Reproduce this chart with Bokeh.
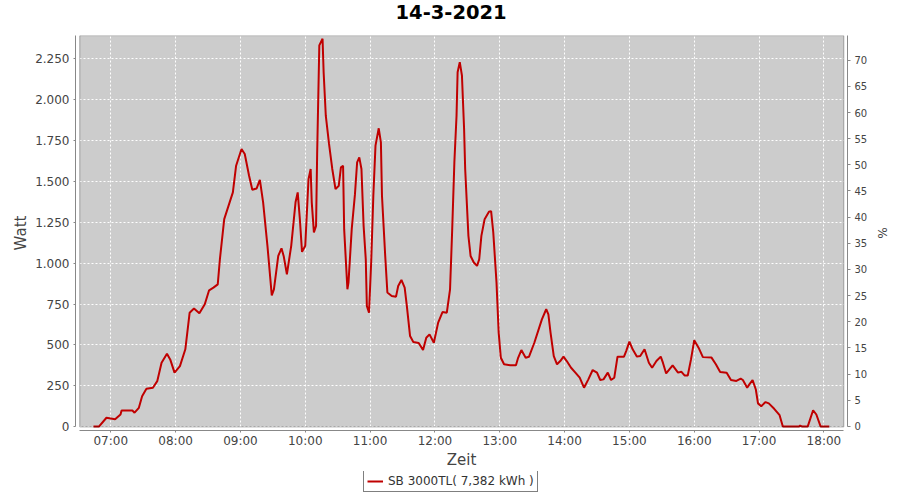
from bokeh.plotting import figure
from bokeh.layouts import column
from bokeh.models import Range1d, LinearAxis, FixedTicker, BoxAnnotation, Legend, LegendItem, Title
from bokeh.embed import file_html
from bokeh.resources import INLINE

# ---------------- data ----------------
title_text = "14-3-2021"
series_label = "SB 3000TL( 7,382 kWh )"
x_label = "Zeit"
y_label = "Watt"
y2_label = "%"

times = ["06:44", "06:49", "06:56", "07:00", "07:04", "07:09", "07:10", "07:16", "07:20", "07:22",
         "07:26", "07:29", "07:33", "07:39", "07:43", "07:47", "07:52", "07:55", "07:59", "08:04",
         "08:09", "08:13", "08:17", "08:22", "08:27", "08:31", "08:35", "08:39", "08:41", "08:45",
         "08:50", "08:53", "08:56", "09:01", "09:04", "09:08", "09:11", "09:15", "09:18", "09:21",
         "09:25", "09:29", "09:31", "09:35", "09:38", "09:40", "09:43", "09:47", "09:51", "09:53",
         "09:55", "09:57", "10:00", "10:03", "10:05", "10:06", "10:08", "10:10", "10:11", "10:13",
         "10:16", "10:17", "10:19", "10:22", "10:25", "10:28", "10:31", "10:33", "10:35", "10:36",
         "10:39", "10:40", "10:43", "10:46", "10:48", "10:50", "10:52", "10:54", "10:56", "10:57",
         "10:59", "11:01", "11:03", "11:05", "11:08", "11:10", "11:11", "11:14", "11:16", "11:20",
         "11:24", "11:26", "11:29", "11:32", "11:34", "11:37", "11:40", "11:45", "11:49", "11:52",
         "11:55", "11:59", "12:03", "12:07", "12:11", "12:14", "12:16", "12:18", "12:20", "12:21",
         "12:23", "12:25", "12:27", "12:28", "12:31", "12:33", "12:36", "12:39", "12:41", "12:43",
         "12:46", "12:50", "12:52", "12:54", "12:57", "12:59", "13:01", "13:04", "13:10", "13:15",
         "13:17", "13:20", "13:24", "13:27", "13:32", "13:36", "13:39", "13:43", "13:45", "13:47",
         "13:50", "13:53", "13:56", "13:59", "14:02", "14:06", "14:10", "14:14", "14:18", "14:22",
         "14:26", "14:30", "14:33", "14:36", "14:40", "14:43", "14:46", "14:49", "14:55", "14:57",
         "15:00", "15:03", "15:07", "15:10", "15:14", "15:18", "15:21", "15:25", "15:29", "15:31",
         "15:34", "15:40", "15:45", "15:48", "15:51", "15:54", "15:57", "16:00", "16:04", "16:08",
         "16:16", "16:20", "16:24", "16:30", "16:34", "16:39", "16:43", "16:45", "16:49", "16:51",
         "16:54", "16:57", "16:59", "17:02", "17:06", "17:09", "17:14", "17:19", "17:22", "17:37",
         "17:38", "17:40", "17:45", "17:50", "17:53", "17:57", "18:05"]

watts = [0, 0, 54, 50, 45, 74, 99, 99, 98, 85,
         115, 186, 231, 238, 278, 391, 446, 411, 330, 370,
         473, 697, 722, 693, 748, 834, 850, 870, 1024, 1269,
         1372, 1433, 1596, 1698, 1668, 1535, 1449, 1457, 1510, 1372,
         1106, 803, 840, 1044, 1091, 1044, 932, 1106, 1372, 1433,
         1269, 1069, 1106, 1514, 1576, 1372, 1188, 1228, 1668, 2332,
         2373, 2168, 1902, 1729, 1576, 1453, 1473, 1586, 1595, 1208,
         840, 881, 1208, 1422, 1617, 1647, 1576, 1228, 1024, 738,
         697, 1004, 1412, 1719, 1825, 1739, 1412, 1044, 820, 799,
         795, 860, 897, 850, 738, 554, 517, 512, 468, 544,
         564, 513, 636, 701, 697, 840, 1208, 1617, 1902, 2168,
         2230, 2148, 1821, 1576, 1167, 1044, 1004, 983, 1024, 1167,
         1269, 1314, 1318, 1188, 881, 575, 421, 381, 375, 375,
         421, 468, 421, 427, 513, 595, 656, 718, 687, 575,
         431, 381, 401, 428, 401, 360, 330, 299, 238, 289,
         346, 330, 285, 289, 330, 285, 299, 428, 428, 462,
         520, 473, 428, 432, 473, 391, 360, 401, 428, 391,
         325, 374, 330, 336, 313, 313, 411, 528, 483, 425,
         422, 381, 334, 330, 285, 279, 293, 285, 238, 258,
         285, 227, 142, 125, 150, 142, 109, 70, 0, 0,
         6, 0, 0, 100, 74, 0, 0]

x_tick_hours = [7, 8, 9, 10, 11, 12, 13, 14, 15, 16, 17, 18]
x_tick_labels = ["07:00", "08:00", "09:00", "10:00", "11:00", "12:00",
                 "13:00", "14:00", "15:00", "16:00", "17:00", "18:00"]
y_tick_values = [0, 250, 500, 750, 1000, 1250, 1500, 1750, 2000, 2250]
y_tick_labels = ["0", "250", "500", "750", "1.000", "1.250", "1.500", "1.750", "2.000", "2.250"]
pct_tick_values = [0, 5, 10, 15, 20, 25, 30, 35, 40, 45, 50, 55, 60, 65, 70]

# ---------------- layout / style ----------------
hours = [int(t[:2]) + int(t[3:]) / 60 for t in times]

X0, X1 = 6.4559, 18.3640        # frame extent (hours)
Y0, Y1 = -23.9, 2392.7          # frame extent (W)
P0, P1 = -0.80, 74.73           # frame extent (%)
BOX_L, BOX_R = 6.5218, 18.3073
BOX_B, BOX_T = -2.0, 2392.0


def w_to_pct(w):
    return P0 + (w - Y0) / (Y1 - Y0) * (P1 - P0)


FONT = "DejaVu Sans"
AX_COLOR = "#888888"
TXT_COLOR = "#444444"

p = figure(width=892, height=471, x_range=Range1d(X0, X1), y_range=Range1d(Y0, Y1),
           output_backend="svg", toolbar_location=None, title=None,
           min_border_left=75, min_border_right=40, min_border_top=35, min_border_bottom=40)
p.extra_y_ranges = {"pct": Range1d(P0, P1)}
p.background_fill_color = "white"
p.border_fill_color = "white"
p.outline_line_color = None

# spacer (closest to the frame) and the real title above it
spacer = Title(text=" ", text_font_size="1px", standoff=12)
p.add_layout(spacer, "above")
title = Title(text=title_text, text_font=FONT, text_font_size="19.5px", text_font_style="bold",
              text_color="black", align="left", offset=320, vertical_align="top", standoff=0)
p.add_layout(title, "above")

# plot area box
p.add_layout(BoxAnnotation(left=BOX_L, right=BOX_R, bottom=BOX_B, top=BOX_T,
                           fill_color="#CCCCCC", fill_alpha=1.0, line_color=None, level="image"))
p.add_layout(BoxAnnotation(left=BOX_L, right=BOX_R, bottom=BOX_B, top=BOX_T,
                           fill_color=None, fill_alpha=0, line_color="black", line_width=1,
                           level="overlay"))

xt = FixedTicker(ticks=x_tick_hours)
yt = FixedTicker(ticks=y_tick_values)

xa = p.xaxis[0]
xa.ticker = xt
xa.major_label_overrides = dict(zip(x_tick_hours, x_tick_labels))
xa.bounds = (BOX_L, BOX_R)
xa.axis_label = x_label

ya = p.yaxis[0]
ya.ticker = yt
ya.major_label_overrides = dict(zip(y_tick_values, y_tick_labels))
ya.bounds = (BOX_B, BOX_T)
ya.axis_label = y_label

ra = LinearAxis(y_range_name="pct", ticker=FixedTicker(ticks=pct_tick_values),
                bounds=(w_to_pct(BOX_B), w_to_pct(BOX_T)), axis_label=y2_label)
p.add_layout(ra, "right")

for ax in (xa, ya, ra):
    ax.axis_line_color = AX_COLOR
    ax.major_tick_line_color = AX_COLOR
    ax.major_tick_in = 0
    ax.major_tick_out = 2
    ax.minor_tick_line_color = None
    ax.major_label_text_font = FONT
    ax.major_label_text_font_size = "12px"
    ax.major_label_text_color = TXT_COLOR
    ax.axis_label_text_font = FONT
    ax.axis_label_text_font_size = "15px"
    ax.axis_label_text_font_style = "normal"
    ax.axis_label_text_color = TXT_COLOR

xa.major_label_standoff = 1
xa.axis_label_standoff = 0
ya.major_label_standoff = 4
ya.axis_label_standoff = 2
ra.major_tick_out = 3
ra.major_label_standoff = 4
ra.major_label_text_font_size = "10px"
ra.axis_label_text_font_size = "12px"
ra.axis_label_standoff = 5

p.xgrid.ticker = xt
p.ygrid.ticker = yt
for g in (p.xgrid, p.ygrid):
    g.grid_line_color = "white"
    g.grid_line_dash = "2 2"
    g.grid_line_width = 1
    g.grid_line_alpha = 1.0

r = p.line(hours, watts, line_color="#C00000", line_width=2)

# ---------------- legend strip (separate small figure) ----------------
lf = figure(width=892, height=21, x_range=Range1d(0, 1), y_range=Range1d(0, 1),
            output_backend="svg", toolbar_location=None, title=None,
            min_border_left=0, min_border_right=0, min_border_top=0, min_border_bottom=0)
lf.axis.visible = False
lf.grid.visible = False
lf.outline_line_color = None
lf.background_fill_color = "white"
lf.border_fill_color = "white"
# legend proxy: same style as the series line, holds no visible points
dummy = lf.line(x=[float("nan")], y=[float("nan")], line_color="#C00000", line_width=2)

legend = Legend(items=[LegendItem(label=series_label, renderers=[dummy])], location=(288, 0))
legend.label_text_font = FONT
legend.label_text_font_size = "12px"
legend.label_text_color = "#333333"
legend.label_standoff = 5
legend.glyph_width = 16
legend.glyph_height = 14
legend.label_height = 14
legend.padding = 3
legend.spacing = 0
legend.margin = 0
legend.border_line_color = "black"
legend.border_line_width = 1
legend.background_fill_color = "white"
legend.background_fill_alpha = 1.0
lf.add_layout(legend)

layout = column(p, lf, spacing=0)

open("out.html", "w").write(file_html(layout, INLINE))
